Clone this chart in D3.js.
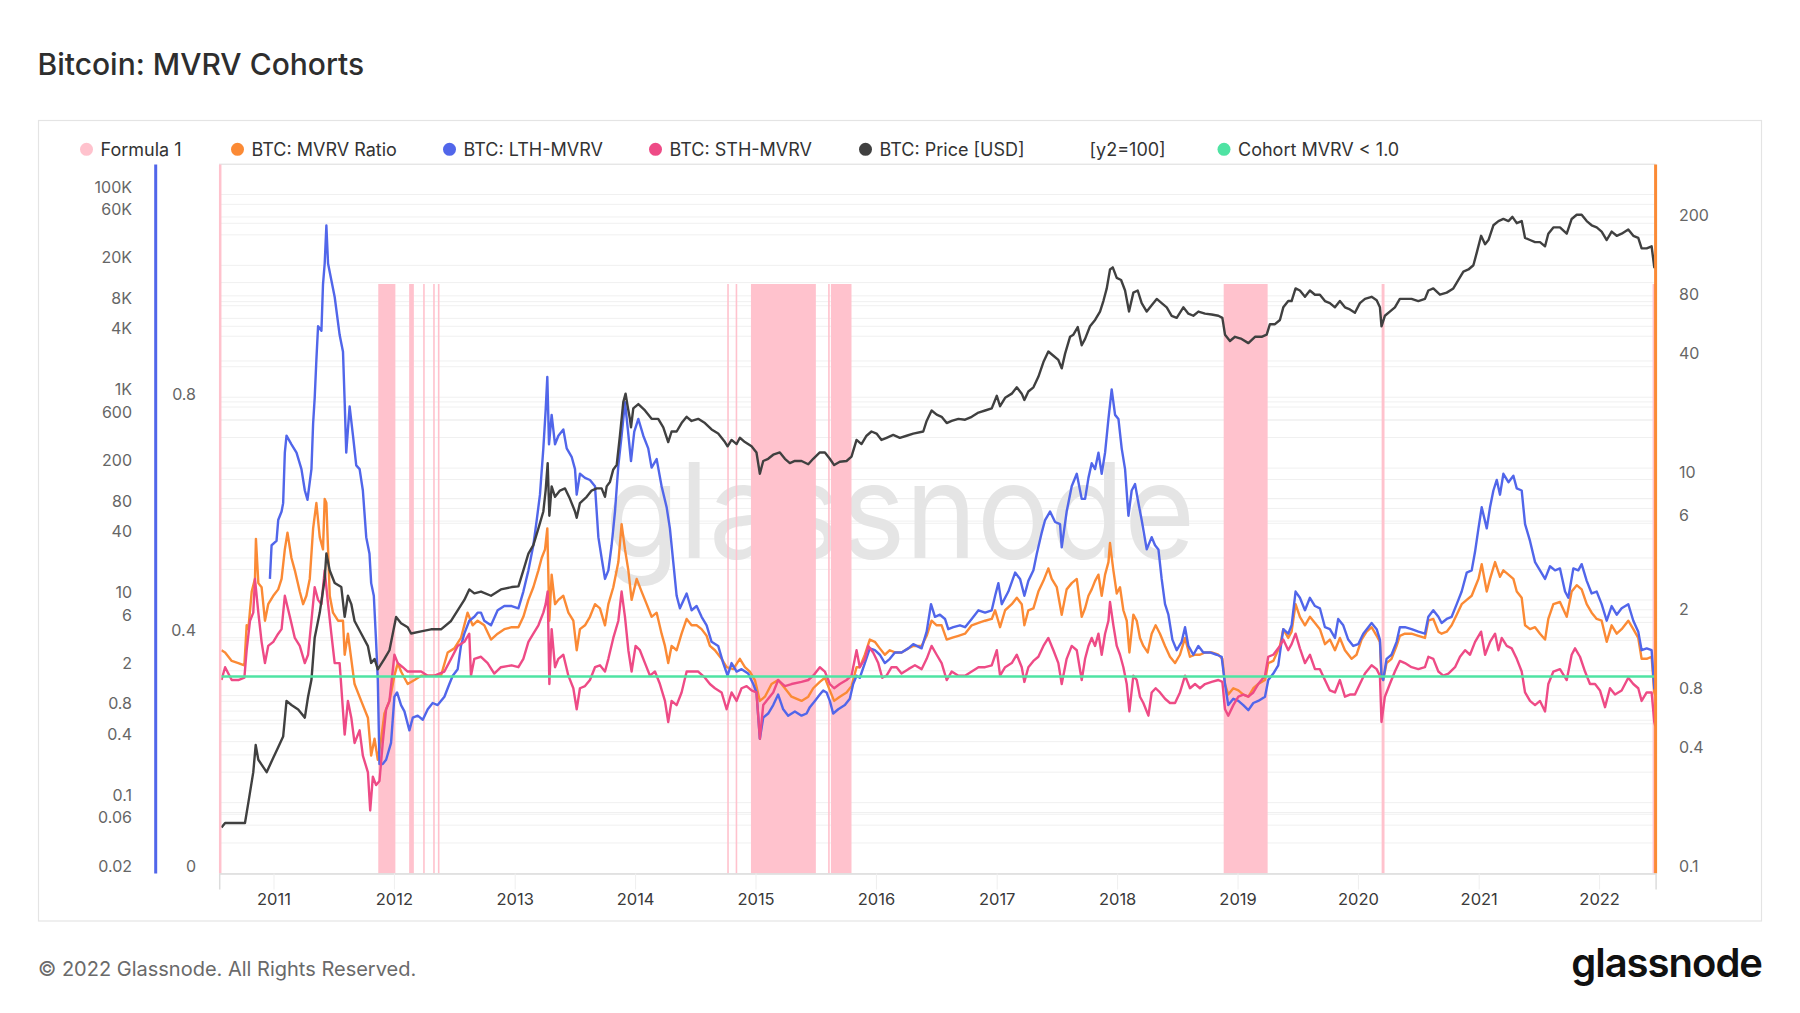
<!DOCTYPE html>
<html>
<head>
<meta charset="utf-8">
<script src="https://cdn.jsdelivr.net/npm/d3@7"></script>
<style>
  body { margin: 0; background: #fff; font-family: Inter, "Noto Sans", sans-serif; }
</style>
</head>
<body>
<svg id="chart" width="1800" height="1013"></svg>
<script>
// values, time given as decimal years
const priceData = [
  [2010.568,0.057],[2010.598,0.063],[2010.708,0.063],[2010.763,0.063],[2010.791,0.10],[2010.832,0.20],[2010.852,0.37],[2010.874,0.265],[2010.943,0.20],[2010.998,0.277],
  [2011.039,0.353],[2011.080,0.449],[2011.108,1.01],[2011.149,0.92],[2011.205,0.83],[2011.260,0.69],[2011.287,1.11],[2011.315,1.63],[2011.342,4.24],[2011.384,7.5],
  [2011.425,16.2],[2011.439,28.7],[2011.467,19.5],[2011.508,14.7],[2011.563,13.4],[2011.591,6.8],[2011.618,11.0],[2011.646,9.1],[2011.673,6.2],[2011.728,4.67],
  [2011.784,3.5],[2011.811,2.39],[2011.839,2.62],[2011.866,2.07],[2011.921,2.62],[2011.963,3.19],[2012.018,6.8],[2012.059,5.9],[2012.114,5.38],[2012.142,4.67],
  [2012.225,4.9],[2012.307,5.13],[2012.390,5.13],[2012.473,6.2],[2012.528,7.9],[2012.583,10.0],[2012.624,12.7],[2012.666,11.6],[2012.721,12.1],[2012.804,11.0],
  [2012.886,12.7],[2012.975,13.4],[2013.031,13.6],[2013.072,19.6],[2013.114,28.7],[2013.155,34.7],[2013.197,50.9],[2013.238,74.6],[2013.257,120],[2013.274,224],
  [2013.288,67.8],[2013.307,132],[2013.335,104],[2013.376,120],[2013.418,126],[2013.459,99.4],[2013.501,74.6],[2013.515,64.7],[2013.542,90.4],[2013.598,104],
  [2013.639,120],[2013.681,126],[2013.722,126],[2013.750,104],[2013.764,132],[2013.791,146],[2013.819,194],[2013.847,214],[2013.874,417],[2013.902,897],
  [2013.921,1085],[2013.938,815],[2013.957,612],[2013.966,505],[2013.985,777],[2014.027,855],[2014.082,740],[2014.137,612],[2014.192,612],[2014.234,505],
  [2014.275,361],[2014.303,459],[2014.345,459],[2014.386,556],[2014.428,641],[2014.469,583],[2014.524,612],[2014.580,556],[2014.635,481],[2014.690,438],
  [2014.746,361],[2014.768,328],[2014.801,379],[2014.843,345],[2014.870,398],[2014.912,361],[2014.967,328],[2015.008,285],[2015.036,176],[2015.064,235],
  [2015.105,247],[2015.147,271],[2015.202,285],[2015.244,247],[2015.285,224],[2015.327,235],[2015.382,235],[2015.438,218],[2015.479,247],[2015.534,285],
  [2015.576,285],[2015.617,247],[2015.653,214],[2015.700,231],[2015.756,235],[2015.797,259],[2015.839,379],[2015.880,345],[2015.922,417],[2015.963,459],
  [2016.005,438],[2016.046,379],[2016.088,398],[2016.143,425],[2016.198,398],[2016.254,417],[2016.309,438],[2016.392,459],[2016.420,583],[2016.461,740],
  [2016.503,673],[2016.544,641],[2016.586,556],[2016.627,583],[2016.683,612],[2016.738,600],[2016.793,641],[2016.849,706],[2016.904,740],[2016.959,777],
  [2017.001,1034],[2017.028,815],[2017.070,986],[2017.125,1085],[2017.167,1252],[2017.208,1085],[2017.230,940],[2017.263,1138],[2017.305,1252],[2017.346,1591],
  [2017.388,2223],[2017.429,2824],[2017.471,2566],[2017.512,2332],[2017.540,1926],[2017.568,2692],[2017.609,3947],[2017.637,4140],[2017.673,4916],[2017.706,3260],
  [2017.734,3762],[2017.775,5010],[2017.817,5784],[2017.858,7002],[2017.886,8892],[2017.914,11845],[2017.941,18215],[2017.964,19107],[2017.997,15046],[2018.033,14344],
  [2018.066,11294],[2018.099,7002],[2018.135,10767],[2018.171,11294],[2018.204,8478],[2018.246,7002],[2018.287,8080],[2018.329,9330],[2018.370,8478],[2018.412,7704],
  [2018.453,6363],[2018.495,6067],[2018.550,7704],[2018.592,6674],[2018.633,6363],[2018.675,7002],[2018.730,6674],[2018.785,6550],[2018.841,6363],[2018.874,6067],
  [2018.896,4140],[2018.937,3586],[2018.979,3947],[2019.034,3762],[2019.090,3419],[2019.145,3947],[2019.200,3947],[2019.242,4140],[2019.269,5256],[2019.311,5256],
  [2019.352,5784],[2019.380,7704],[2019.421,8892],[2019.449,8892],[2019.482,11845],[2019.518,11294],[2019.560,9786],[2019.601,11294],[2019.643,10265],[2019.684,10265],
  [2019.726,8892],[2019.767,8478],[2019.809,7704],[2019.850,8892],[2019.892,7704],[2019.933,7345],[2019.975,6804],[2020.016,8478],[2020.058,9330],[2020.113,9786],
  [2020.155,9065],[2020.182,7704],[2020.195,5010],[2020.223,6363],[2020.264,7002],[2020.306,7704],[2020.347,9330],[2020.389,9330],[2020.444,9330],[2020.500,8892],
  [2020.555,9330],[2020.583,11294],[2020.624,11845],[2020.679,10265],[2020.735,10767],[2020.790,11845],[2020.832,14344],[2020.873,17370],[2020.915,18215],[2020.956,20045],
  [2020.984,26710],[2021.020,39150],[2021.053,32330],[2021.081,35570],[2021.122,49710],[2021.164,54700],[2021.205,57390],[2021.247,54700],[2021.280,60210],[2021.316,52140],
  [2021.357,54700],[2021.385,37320],[2021.426,35570],[2021.468,33920],[2021.509,33920],[2021.551,30830],[2021.578,41060],[2021.620,47390],[2021.675,47390],[2021.731,41060],
  [2021.772,57390],[2021.814,63140],[2021.855,63140],[2021.897,54700],[2021.938,49710],[2021.980,47390],[2022.021,43080],[2022.063,35570],[2022.104,43080],[2022.146,39150],
  [2022.187,41060],[2022.242,45190],[2022.284,39150],[2022.325,37320],[2022.353,29390],[2022.395,29390],[2022.436,30830],[2022.458,19107],[2022.467,20000]
];

const mvrvData = [
  [2010.568,1.36],[2010.598,1.325],[2010.653,1.20],[2010.708,1.17],[2010.758,1.14],[2010.777,1.82],[2010.791,1.74],[2010.819,2.70],[2010.846,3.13],[2010.854,5.0],
  [2010.874,2.98],[2010.901,2.84],[2010.929,1.92],[2010.956,2.33],[2010.998,2.57],[2011.039,2.77],[2011.067,3.13],[2011.094,4.42],[2011.116,5.38],[2011.149,4.0],
  [2011.177,3.46],[2011.218,2.70],[2011.246,2.33],[2011.273,2.57],[2011.301,3.13],[2011.329,5.65],[2011.356,7.6],[2011.384,5.1],[2011.411,4.42],[2011.425,7.98],
  [2011.439,7.6],[2011.467,2.57],[2011.494,2.11],[2011.536,1.92],[2011.577,1.92],[2011.591,1.29],[2011.618,1.65],[2011.673,0.916],[2011.728,0.752],[2011.784,0.618],
  [2011.811,0.397],[2011.839,0.483],[2011.866,0.378],[2011.894,0.483],[2011.921,0.649],[2011.963,0.752],[2012.004,1.01],[2012.032,1.17],[2012.059,1.06],[2012.114,0.916],
  [2012.170,0.96],[2012.225,1.01],[2012.307,1.01],[2012.390,1.01],[2012.445,1.325],[2012.500,1.39],[2012.555,1.57],[2012.610,2.11],[2012.652,1.82],[2012.693,1.92],
  [2012.748,1.82],[2012.804,1.54],[2012.859,1.65],[2012.914,1.74],[2012.975,1.78],[2013.031,1.78],[2013.072,2.01],[2013.114,2.45],[2013.155,2.84],[2013.197,3.46],
  [2013.224,4.0],[2013.252,4.42],[2013.271,5.65],[2013.288,1.92],[2013.307,3.29],[2013.335,2.33],[2013.363,2.45],[2013.404,2.57],[2013.446,2.11],[2013.487,1.92],
  [2013.515,1.36],[2013.542,1.74],[2013.584,1.82],[2013.625,2.01],[2013.667,2.33],[2013.708,2.22],[2013.750,1.82],[2013.778,2.33],[2013.819,2.84],[2013.861,3.81],
  [2013.888,5.94],[2013.916,4.42],[2013.944,3.46],[2013.971,2.45],[2014.013,3.13],[2014.054,2.70],[2014.096,2.33],[2014.137,2.01],[2014.179,2.11],[2014.220,1.65],
  [2014.248,1.43],[2014.275,1.17],[2014.303,1.43],[2014.345,1.36],[2014.386,1.65],[2014.428,1.96],[2014.469,1.82],[2014.511,1.82],[2014.552,1.74],[2014.594,1.61],
  [2014.621,1.43],[2014.663,1.36],[2014.718,1.23],[2014.760,1.115],[2014.815,1.09],[2014.870,1.23],[2014.912,1.115],[2014.953,1.06],[2014.995,0.96],[2015.036,0.752],
  [2015.078,0.79],[2015.133,0.916],[2015.188,0.96],[2015.244,0.872],[2015.299,0.79],[2015.382,0.752],[2015.438,0.79],[2015.479,0.872],[2015.534,0.939],[2015.576,0.986],
  [2015.617,0.85],[2015.653,0.752],[2015.700,0.79],[2015.756,0.83],[2015.797,0.894],[2015.839,1.115],[2015.866,1.115],[2015.908,1.29],[2015.949,1.54],[2015.991,1.50],
  [2016.032,1.39],[2016.074,1.29],[2016.115,1.36],[2016.157,1.325],[2016.212,1.325],[2016.268,1.39],[2016.309,1.43],[2016.378,1.43],[2016.420,1.61],[2016.461,1.92],
  [2016.503,1.82],[2016.544,1.82],[2016.586,1.54],[2016.627,1.57],[2016.683,1.61],[2016.738,1.65],[2016.793,1.82],[2016.849,1.87],[2016.904,1.92],[2016.959,1.96],
  [2016.987,2.17],[2017.028,1.78],[2017.070,2.17],[2017.125,2.33],[2017.167,2.51],[2017.208,2.33],[2017.230,1.82],[2017.263,2.17],[2017.305,2.22],[2017.346,2.70],
  [2017.388,3.06],[2017.429,3.54],[2017.457,3.13],[2017.499,2.84],[2017.540,2.06],[2017.581,2.77],[2017.623,2.98],[2017.665,3.13],[2017.706,2.01],[2017.734,2.22],
  [2017.762,2.57],[2017.789,2.77],[2017.817,3.06],[2017.845,3.29],[2017.872,2.57],[2017.900,3.29],[2017.928,3.81],[2017.941,4.76],[2017.969,3.46],[2017.997,2.64],
  [2018.024,2.84],[2018.052,2.17],[2018.080,1.92],[2018.102,1.325],[2018.135,2.06],[2018.163,1.92],[2018.190,1.57],[2018.218,1.43],[2018.254,1.325],[2018.287,1.65],
  [2018.320,1.82],[2018.356,1.65],[2018.398,1.43],[2018.439,1.26],[2018.481,1.17],[2018.522,1.29],[2018.564,1.57],[2018.605,1.26],[2018.647,1.29],[2018.688,1.29],
  [2018.730,1.325],[2018.785,1.325],[2018.841,1.29],[2018.874,1.23],[2018.896,0.916],[2018.923,0.81],[2018.965,0.872],[2019.007,0.85],[2019.048,0.81],[2019.090,0.79],
  [2019.131,0.872],[2019.172,0.916],[2019.228,0.96],[2019.255,1.17],[2019.297,1.20],[2019.352,1.43],[2019.380,1.74],[2019.421,1.57],[2019.449,1.69],[2019.482,2.33],
  [2019.518,2.01],[2019.560,1.82],[2019.601,2.01],[2019.643,1.87],[2019.684,1.74],[2019.726,1.46],[2019.767,1.54],[2019.809,1.36],[2019.850,1.57],[2019.892,1.36],
  [2019.947,1.23],[2019.988,1.29],[2020.030,1.54],[2020.072,1.69],[2020.113,1.78],[2020.155,1.61],[2020.182,1.50],[2020.195,0.986],[2020.209,0.96],[2020.237,1.17],
  [2020.278,1.23],[2020.320,1.43],[2020.347,1.61],[2020.389,1.65],[2020.444,1.65],[2020.500,1.61],[2020.555,1.57],[2020.583,1.92],[2020.624,1.96],[2020.666,1.69],
  [2020.693,1.65],[2020.735,1.69],[2020.776,1.82],[2020.818,2.06],[2020.859,2.33],[2020.901,2.45],[2020.942,2.57],[2020.970,2.84],[2020.998,3.13],[2021.025,3.72],
  [2021.067,2.70],[2021.094,3.13],[2021.136,3.81],[2021.177,3.21],[2021.205,3.46],[2021.247,3.29],[2021.288,3.13],[2021.316,2.70],[2021.357,2.51],[2021.385,1.82],
  [2021.426,1.74],[2021.468,1.78],[2021.509,1.65],[2021.551,1.54],[2021.578,1.96],[2021.620,2.33],[2021.675,2.39],[2021.731,2.01],[2021.772,2.70],[2021.814,2.91],
  [2021.855,2.77],[2021.897,2.33],[2021.938,2.11],[2021.980,1.96],[2022.021,1.92],[2022.063,1.50],[2022.104,1.82],[2022.146,1.65],[2022.187,1.74],[2022.242,1.92],
  [2022.284,1.74],[2022.325,1.57],[2022.353,1.23],[2022.395,1.23],[2022.436,1.26],[2022.458,0.83],[2022.467,0.80]
];

const lthData = [
  [2010.970,3.13],[2010.984,4.64],[2011.025,4.88],[2011.039,6.23],[2011.067,6.88],[2011.080,7.59],[2011.094,13.7],[2011.108,16.7],[2011.149,15.1],[2011.191,13.7],
  [2011.232,11.3],[2011.260,8.8],[2011.282,7.9],[2011.315,11.3],[2011.329,19.3],[2011.342,26.0],[2011.356,40.5],[2011.370,60],[2011.398,57],[2011.411,98],
  [2011.425,125],[2011.439,195],[2011.453,125],[2011.480,103],[2011.508,84.5],[2011.549,54.3],[2011.577,44.6],[2011.591,24.7],[2011.604,13.7],[2011.632,23.5],
  [2011.660,16.7],[2011.687,11.8],[2011.715,11.3],[2011.742,8.8],[2011.770,5.1],[2011.797,4.2],[2011.811,2.98],[2011.833,2.57],[2011.852,1.50],[2011.866,0.96],
  [2011.880,0.36],[2011.907,0.36],[2011.935,0.378],[2011.976,0.46],[2012.004,0.79],[2012.026,0.83],[2012.059,0.716],[2012.087,0.665],[2012.128,0.533],[2012.156,0.618],
  [2012.197,0.633],[2012.239,0.603],[2012.280,0.682],[2012.321,0.734],[2012.362,0.716],[2012.418,0.79],[2012.459,0.916],[2012.487,1.01],[2012.528,1.09],[2012.555,1.43],
  [2012.583,1.65],[2012.624,1.92],[2012.666,2.01],[2012.693,2.11],[2012.721,2.11],[2012.748,1.92],[2012.804,1.82],[2012.859,2.17],[2012.914,2.28],[2012.975,2.28],
  [2013.031,2.22],[2013.072,2.70],[2013.114,3.46],[2013.155,4.64],[2013.183,6.23],[2013.210,8.38],[2013.238,14.4],[2013.257,22.4],[2013.271,33.2],[2013.285,15.1],
  [2013.307,21.3],[2013.335,15.1],[2013.363,16.7],[2013.404,17.97],[2013.432,14.4],[2013.473,13.05],[2013.501,11.3],[2013.515,8.38],[2013.542,10.7],[2013.584,10.2],
  [2013.625,9.95],[2013.667,9.25],[2013.695,5.1],[2013.722,4.0],[2013.750,3.13],[2013.778,3.46],[2013.805,4.64],[2013.833,6.88],[2013.861,11.8],[2013.888,16.7],
  [2013.916,24.7],[2013.938,18.4],[2013.966,12.4],[2013.993,17.5],[2014.027,20.3],[2014.068,16.7],[2014.109,14.4],[2014.137,11.5],[2014.179,12.7],[2014.220,9.25],
  [2014.262,7.23],[2014.289,5.65],[2014.317,3.81],[2014.345,2.57],[2014.372,2.22],[2014.428,2.64],[2014.469,2.17],[2014.511,2.28],[2014.552,2.01],[2014.594,1.82],
  [2014.635,1.50],[2014.690,1.43],[2014.732,1.17],[2014.768,1.01],[2014.801,1.17],[2014.843,1.06],[2014.884,1.09],[2014.939,1.035],[2014.981,0.916],[2015.008,0.83],
  [2015.036,0.483],[2015.064,0.618],[2015.105,0.649],[2015.147,0.716],[2015.188,0.81],[2015.230,0.682],[2015.271,0.633],[2015.327,0.665],[2015.382,0.633],[2015.424,0.649],
  [2015.451,0.699],[2015.493,0.752],[2015.534,0.81],[2015.562,0.85],[2015.590,0.83],[2015.617,0.752],[2015.645,0.649],[2015.687,0.682],[2015.742,0.716],[2015.783,0.771],
  [2015.811,0.916],[2015.839,1.01],[2015.866,0.986],[2015.908,1.17],[2015.949,1.39],[2015.991,1.36],[2016.032,1.29],[2016.074,1.17],[2016.115,1.23],[2016.157,1.325],
  [2016.212,1.325],[2016.268,1.39],[2016.309,1.46],[2016.378,1.39],[2016.420,1.69],[2016.456,2.33],[2016.489,2.01],[2016.530,2.06],[2016.572,1.96],[2016.599,1.74],
  [2016.641,1.78],[2016.696,1.82],[2016.738,1.78],[2016.793,1.96],[2016.849,2.17],[2016.904,2.11],[2016.959,2.17],[2016.987,2.57],[2017.014,2.98],[2017.042,2.33],
  [2017.097,2.70],[2017.153,3.37],[2017.194,3.13],[2017.230,2.57],[2017.263,3.06],[2017.305,3.46],[2017.333,4.2],[2017.374,5.38],[2017.402,6.23],[2017.443,6.88],
  [2017.485,6.09],[2017.526,5.94],[2017.540,4.53],[2017.581,6.88],[2017.623,9.25],[2017.665,10.7],[2017.706,7.98],[2017.734,7.98],[2017.762,10.2],[2017.789,12.1],
  [2017.817,11.3],[2017.845,13.7],[2017.872,10.7],[2017.900,13.7],[2017.928,20.3],[2017.955,28.7],[2017.983,21.3],[2018.011,20.3],[2018.038,14.4],[2018.066,11.3],
  [2018.094,6.55],[2018.121,8.8],[2018.149,9.48],[2018.177,7.6],[2018.204,6.23],[2018.246,4.42],[2018.287,5.1],[2018.315,4.64],[2018.343,4.42],[2018.370,3.13],
  [2018.398,2.33],[2018.426,2.06],[2018.459,1.54],[2018.495,1.36],[2018.536,1.50],[2018.564,1.78],[2018.592,1.43],[2018.633,1.29],[2018.675,1.43],[2018.716,1.325],
  [2018.771,1.325],[2018.827,1.29],[2018.868,1.26],[2018.896,0.916],[2018.923,0.716],[2018.965,0.771],[2019.007,0.752],[2019.048,0.716],[2019.090,0.675],[2019.131,0.734],
  [2019.172,0.752],[2019.228,0.79],[2019.255,0.96],[2019.297,1.035],[2019.338,1.14],[2019.380,1.74],[2019.421,1.65],[2019.449,1.82],[2019.482,2.70],[2019.518,2.51],
  [2019.560,2.17],[2019.601,2.51],[2019.643,2.28],[2019.684,2.22],[2019.726,1.78],[2019.767,1.74],[2019.809,1.57],[2019.836,1.96],[2019.878,1.82],[2019.919,1.54],
  [2019.961,1.43],[2020.002,1.46],[2020.044,1.65],[2020.113,1.87],[2020.155,1.74],[2020.182,1.54],[2020.195,1.01],[2020.209,0.96],[2020.237,1.23],[2020.278,1.29],
  [2020.320,1.50],[2020.347,1.78],[2020.389,1.78],[2020.444,1.74],[2020.500,1.69],[2020.555,1.65],[2020.583,2.01],[2020.624,2.17],[2020.666,2.01],[2020.693,1.87],
  [2020.735,1.96],[2020.776,2.01],[2020.818,2.33],[2020.859,2.70],[2020.901,3.37],[2020.942,3.46],[2020.970,4.31],[2020.998,5.65],[2021.025,7.23],[2021.067,5.65],
  [2021.094,7.23],[2021.122,8.8],[2021.150,9.95],[2021.177,8.38],[2021.205,10.7],[2021.247,9.7],[2021.288,10.45],[2021.316,9.02],[2021.357,8.8],[2021.385,5.94],
  [2021.426,4.88],[2021.468,3.81],[2021.509,3.46],[2021.551,3.13],[2021.592,3.63],[2021.634,3.46],[2021.675,3.54],[2021.717,2.70],[2021.744,2.51],[2021.786,3.54],
  [2021.827,3.46],[2021.855,3.72],[2021.897,3.06],[2021.938,2.64],[2021.980,2.70],[2022.021,2.33],[2022.063,1.92],[2022.104,2.28],[2022.146,2.06],[2022.187,2.22],
  [2022.242,2.33],[2022.284,1.92],[2022.325,1.69],[2022.353,1.36],[2022.395,1.39],[2022.436,1.36],[2022.458,0.872],[2022.467,0.85]
];

const sthData = [
  [2010.568,0.96],[2010.598,1.115],[2010.653,0.96],[2010.708,0.96],[2010.758,0.986],[2010.777,1.36],[2010.805,1.92],[2010.832,2.11],[2010.846,3.13],[2010.874,2.11],
  [2010.901,1.50],[2010.929,1.17],[2010.956,1.43],[2010.998,1.50],[2011.039,1.65],[2011.067,1.74],[2011.094,2.57],[2011.136,2.01],[2011.177,1.57],[2011.218,1.43],
  [2011.260,1.17],[2011.287,1.29],[2011.315,1.92],[2011.342,2.84],[2011.370,2.45],[2011.398,2.33],[2011.425,3.46],[2011.453,2.33],[2011.480,1.65],[2011.508,1.17],
  [2011.549,1.17],[2011.591,0.507],[2011.618,0.752],[2011.646,0.618],[2011.673,0.46],[2011.715,0.533],[2011.742,0.397],[2011.784,0.326],[2011.803,0.209],[2011.825,0.31],
  [2011.852,0.281],[2011.880,0.295],[2011.907,0.46],[2011.935,0.682],[2011.963,0.752],[2012.004,1.29],[2012.032,1.17],[2012.073,1.115],[2012.114,1.06],[2012.170,1.06],
  [2012.225,1.06],[2012.280,1.01],[2012.335,1.01],[2012.418,1.06],[2012.473,1.23],[2012.528,1.43],[2012.583,1.50],[2012.624,1.65],[2012.638,1.01],[2012.666,1.23],
  [2012.721,1.26],[2012.776,1.17],[2012.831,1.035],[2012.886,1.115],[2012.975,1.14],[2013.031,1.115],[2013.072,1.23],[2013.114,1.50],[2013.155,1.65],[2013.197,1.82],
  [2013.238,2.11],[2013.257,2.33],[2013.274,2.70],[2013.288,0.916],[2013.307,1.74],[2013.335,1.115],[2013.363,1.23],[2013.404,1.29],[2013.446,1.01],[2013.487,0.872],
  [2013.515,0.682],[2013.542,0.872],[2013.584,0.894],[2013.625,0.96],[2013.667,1.115],[2013.708,1.14],[2013.750,1.06],[2013.778,1.23],[2013.819,1.57],[2013.861,1.92],
  [2013.888,2.70],[2013.916,2.01],[2013.944,1.36],[2013.971,1.06],[2014.004,1.43],[2014.040,1.36],[2014.082,1.17],[2014.123,1.01],[2014.165,1.06],[2014.206,0.916],
  [2014.248,0.752],[2014.275,0.588],[2014.303,0.752],[2014.345,0.716],[2014.386,0.83],[2014.428,1.06],[2014.469,1.06],[2014.524,1.06],[2014.580,0.986],[2014.621,0.916],
  [2014.663,0.872],[2014.718,0.83],[2014.760,0.682],[2014.801,0.83],[2014.843,0.752],[2014.884,0.872],[2014.926,0.894],[2014.967,0.85],[2015.008,0.83],[2015.036,0.483],
  [2015.064,0.716],[2015.105,0.771],[2015.147,0.83],[2015.188,0.96],[2015.244,0.894],[2015.299,0.916],[2015.382,0.939],[2015.438,0.96],[2015.479,1.01],[2015.534,1.115],
  [2015.576,1.06],[2015.617,0.916],[2015.653,0.872],[2015.700,0.916],[2015.756,0.96],[2015.797,1.01],[2015.839,1.36],[2015.866,1.115],[2015.908,1.23],[2015.936,1.43],
  [2015.977,1.325],[2016.019,1.17],[2016.052,0.986],[2016.088,1.01],[2016.129,1.115],[2016.171,1.115],[2016.212,1.035],[2016.268,1.09],[2016.323,1.14],[2016.378,1.09],
  [2016.420,1.23],[2016.461,1.43],[2016.503,1.29],[2016.544,1.17],[2016.586,0.96],[2016.627,1.06],[2016.683,1.01],[2016.738,1.01],[2016.793,1.06],[2016.849,1.115],
  [2016.904,1.115],[2016.959,1.14],[2017.001,1.36],[2017.028,1.01],[2017.070,1.115],[2017.125,1.17],[2017.167,1.29],[2017.208,1.115],[2017.230,0.939],[2017.263,1.115],
  [2017.305,1.20],[2017.346,1.26],[2017.388,1.43],[2017.429,1.57],[2017.471,1.36],[2017.512,1.17],[2017.540,0.916],[2017.581,1.23],[2017.623,1.43],[2017.665,1.36],
  [2017.706,0.96],[2017.734,1.23],[2017.762,1.43],[2017.789,1.57],[2017.817,1.43],[2017.845,1.65],[2017.872,1.29],[2017.900,1.65],[2017.928,1.92],[2017.941,2.39],
  [2017.969,1.82],[2017.997,1.43],[2018.024,1.29],[2018.052,1.115],[2018.080,0.916],[2018.102,0.665],[2018.135,1.01],[2018.163,0.96],[2018.190,0.79],[2018.218,0.734],
  [2018.260,0.633],[2018.287,0.83],[2018.320,0.872],[2018.356,0.83],[2018.398,0.771],[2018.439,0.734],[2018.481,0.734],[2018.522,0.83],[2018.564,1.01],[2018.605,0.872],
  [2018.647,0.916],[2018.688,0.872],[2018.730,0.916],[2018.785,0.939],[2018.841,0.96],[2018.874,0.939],[2018.896,0.682],[2018.923,0.633],[2018.965,0.716],[2019.007,0.79],
  [2019.048,0.81],[2019.090,0.79],[2019.131,0.83],[2019.172,0.916],[2019.228,1.01],[2019.255,1.26],[2019.297,1.29],[2019.352,1.43],[2019.380,1.54],[2019.421,1.36],
  [2019.449,1.46],[2019.482,1.65],[2019.518,1.39],[2019.560,1.17],[2019.601,1.29],[2019.643,1.09],[2019.684,1.09],[2019.726,0.96],[2019.767,0.85],[2019.809,0.83],
  [2019.850,0.96],[2019.892,0.79],[2019.933,0.81],[2019.975,0.81],[2020.016,0.916],[2020.058,1.035],[2020.113,1.14],[2020.155,1.09],[2020.182,1.01],[2020.195,0.588],
  [2020.223,0.79],[2020.264,0.916],[2020.306,1.06],[2020.347,1.20],[2020.389,1.17],[2020.444,1.115],[2020.500,1.09],[2020.555,1.115],[2020.583,1.26],[2020.624,1.23],
  [2020.666,1.06],[2020.707,1.01],[2020.749,1.035],[2020.804,1.115],[2020.845,1.26],[2020.887,1.36],[2020.928,1.29],[2020.970,1.50],[2021.020,1.69],[2021.053,1.29],
  [2021.094,1.50],[2021.136,1.65],[2021.164,1.36],[2021.191,1.57],[2021.233,1.43],[2021.274,1.39],[2021.316,1.23],[2021.357,1.06],[2021.385,0.83],[2021.426,0.752],
  [2021.468,0.716],[2021.509,0.752],[2021.551,0.665],[2021.578,0.916],[2021.620,1.06],[2021.675,1.09],[2021.731,0.96],[2021.772,1.29],[2021.800,1.39],[2021.841,1.26],
  [2021.883,1.06],[2021.924,0.916],[2021.966,0.916],[2022.007,0.85],[2022.049,0.699],[2022.090,0.872],[2022.132,0.81],[2022.187,0.85],[2022.242,0.986],[2022.284,0.916],
  [2022.325,0.872],[2022.353,0.752],[2022.395,0.83],[2022.436,0.83],[2022.458,0.588],[2022.467,0.56]
];

// Formula 1 = 1 during these spans
const formulaOn = [
  [2011.870,2012.012],[2012.126,2012.165],[2012.242,2012.251],[2012.325,2012.334],[2012.364,2012.375],
  [2014.765,2014.777],[2014.835,2014.848],[2014.962,2015.501],[2015.603,2015.609],[2015.626,2015.797],
  [2018.885,2019.250],[2020.196,2020.220],[2022.444,2022.469]
];

const cohortLevel = 1.0;
const dateRange = [2010.549, 2022.469];

const priceTicks = [100000, 60000, 20000, 8000, 4000, 1000, 600, 200, 80, 40, 10, 6, 2, 0.8, 0.4, 0.1, 0.06, 0.02];
const ratioTicks = [200, 80, 40, 10, 6, 2, 0.8, 0.4, 0.1];
const formulaTicks = [0, 0.4, 0.8];
const gridSteps = [1, 2, 4, 6, 8];

const legendNames = ['Formula 1', 'BTC: MVRV Ratio', 'BTC: LTH-MVRV', 'BTC: STH-MVRV', 'BTC: Price [USD]', '[y2=100]', 'Cohort MVRV < 1.0'];
const legendColors = ['#ffc2cd', '#fb8a35', '#5166ea', '#ee4b86', '#404040', 'none', '#4fe3a3'];
const legendX = [86.5, 237.5, 449.5, 655.5, 865.5, 1075.5, 1224];

// ---------- layout ----------
const svg = d3.select('#chart');
const P = { left: 219.2, right: 1655.6, top: 164.5, bottom: 873.5 };

function yrDate(y) {
  const Y = Math.floor(y);
  const s = Date.UTC(Y, 0, 1), e = Date.UTC(Y + 1, 0, 1);
  return new Date(s + (y - Y) * (e - s));
}

const x = d3.scaleUtc().domain(dateRange.map(yrDate)).range([P.left, P.right]);
const yPrice = d3.scaleLog().domain([0.02, 200000]).range([P.bottom, 164]);
const yRatio = d3.scaleLog().domain([0.1, 400]).range([P.bottom, 164]);
const yFormula = d3.scaleLinear().domain([0, 1]).range([P.bottom, 284]);

// card
svg.append('rect')
  .attr('x', 38.5).attr('y', 120.5).attr('width', 1723).attr('height', 800.5)
  .attr('fill', '#fff').attr('stroke', '#e4e4e4').attr('stroke-width', 1.2);

svg.append('text')
  .attr('x', 37.5).attr('y', 75)
  .attr('font-size', 30).attr('font-weight', 500).attr('fill', '#2e2e2e')
  .text('Bitcoin: MVRV Cohorts');

// grid
function logGrid(scale, lo, hi) {
  const vals = [];
  for (let n = lo; n <= hi; n++) gridSteps.forEach(m => vals.push(m * Math.pow(10, n)));
  const d = scale.domain();
  return vals.filter(v => v >= d[0] * 0.999 && v <= d[1]);
}
const gridY = logGrid(yPrice, -2, 5).map(v => yPrice(v))
  .concat(logGrid(yRatio, -1, 2).map(v => yRatio(v)))
  .concat([0.4, 0.8].map(v => yFormula(v)));

const grid = svg.append('g');
grid.selectAll('line').data(gridY).join('line')
  .attr('x1', P.left).attr('x2', P.right)
  .attr('y1', d => d).attr('y2', d => d)
  .attr('stroke', '#f0f0f0').attr('stroke-width', 1);

// watermark
svg.append('text')
  .attr('x', 605).attr('y', 558)
  .attr('font-size', 132).attr('fill', '#e5e5e5')
  .attr('textLength', 590).attr('lengthAdjust', 'spacingAndGlyphs')
  .text('glassnode');

const clip = svg.append('defs').append('clipPath').attr('id', 'plotclip');
clip.append('rect').attr('x', P.left).attr('y', P.top).attr('width', P.right - P.left).attr('height', P.bottom - P.top);

const plot = svg.append('g').attr('clip-path', 'url(#plotclip)');

// Formula 1 bars
plot.selectAll('rect.f1').data(formulaOn).join('rect')
  .attr('class', 'f1')
  .attr('x', d => x(yrDate(d[0])))
  .attr('width', d => Math.max(1.6, x(yrDate(d[1])) - x(yrDate(d[0]))))
  .attr('y', yFormula(1))
  .attr('height', yFormula(0) - yFormula(1))
  .attr('fill', '#ffc2cd');

function drawLine(data, yScale, color) {
  const line = d3.line()
    .x(d => x(yrDate(d[0])))
    .y(d => yScale(d[1]));
  plot.append('path').datum(data)
    .attr('d', line)
    .attr('fill', 'none')
    .attr('stroke', color)
    .attr('stroke-width', 2.4)
    .attr('stroke-linejoin', 'round');
}
drawLine(mvrvData, yRatio, '#fb8a35');
drawLine(lthData, yRatio, '#5166ea');
drawLine(sthData, yRatio, '#ee4b86');
drawLine(priceData, yPrice, '#404040');

plot.append('line')
  .attr('x1', P.left).attr('x2', P.right)
  .attr('y1', yRatio(cohortLevel)).attr('y2', yRatio(cohortLevel))
  .attr('stroke', '#4fe3a3').attr('stroke-width', 2.5);

// plot frame
svg.append('line').attr('x1', P.left).attr('x2', P.right).attr('y1', P.top).attr('y2', P.top)
  .attr('stroke', '#e6e6e6');
svg.append('line').attr('x1', P.left + 1).attr('x2', P.left + 1).attr('y1', P.top).attr('y2', P.bottom)
  .attr('stroke', '#ffc2cd').attr('stroke-width', 2.5);
svg.append('line').attr('x1', 155.7).attr('x2', 155.7).attr('y1', P.top).attr('y2', P.bottom)
  .attr('stroke', '#5166ea').attr('stroke-width', 3);
svg.append('line').attr('x1', P.right).attr('x2', P.right).attr('y1', P.top).attr('y2', P.bottom)
  .attr('stroke', '#fb8a35').attr('stroke-width', 3);

// axes
function styleAxis(g, dy) {
  g.select('.domain').remove();
  g.selectAll('.tick line').remove();
  g.selectAll('.tick text')
    .attr('y', dy)
    .attr('font-family', 'Inter, "Noto Sans", sans-serif')
    .attr('font-size', 16).attr('fill', '#666');
}
const fmtPrice = v => v >= 1000 ? (v / 1000) + 'K' : String(v);

svg.append('g').attr('transform', 'translate(132,0)')
  .call(d3.axisLeft(yPrice).tickValues(priceTicks).tickFormat(fmtPrice).tickSize(0).tickPadding(0))
  .call(g => styleAxis(g, -7.5));

svg.append('g').attr('transform', 'translate(196,0)')
  .call(d3.axisLeft(yFormula).tickValues(formulaTicks).tickFormat(d => String(d)).tickSize(0).tickPadding(0))
  .call(g => styleAxis(g, -7.5));

svg.append('g').attr('transform', 'translate(1679,0)')
  .call(d3.axisRight(yRatio).tickValues(ratioTicks).tickFormat(d => String(d)).tickSize(0).tickPadding(0))
  .call(g => styleAxis(g, -7.5));

const xAxis = svg.append('g').attr('transform', `translate(0,${P.bottom})`)
  .call(d3.axisBottom(x).ticks(d3.utcYear.every(1)).tickFormat(d3.utcFormat('%Y')).tickSize(16).tickPadding(4));
xAxis.select('.domain').attr('stroke', '#dcdcdc').attr('stroke-width', 1.5);
xAxis.selectAll('.tick line').attr('stroke', '#efefef');
xAxis.selectAll('.tick text')
  .attr('font-family', 'Inter, "Noto Sans", sans-serif')
  .attr('font-size', 16.5).attr('fill', '#3a3a3a');

// legend
const legend = svg.append('g');
legendNames.forEach((name, i) => {
  if (legendColors[i] !== 'none') {
    legend.append('circle').attr('cx', legendX[i]).attr('cy', 149.3).attr('r', 6.5).attr('fill', legendColors[i]);
  }
  legend.append('text')
    .attr('x', legendX[i] + 14).attr('y', 155.6)
    .attr('font-size', 18).attr('fill', '#333')
    .text(name);
});

// footer
svg.append('text')
  .attr('x', 38).attr('y', 976)
  .attr('font-size', 20).attr('fill', '#6a6a6a')
  .text('© 2022 Glassnode. All Rights Reserved.');

svg.append('text')
  .attr('x', 1762).attr('y', 977).attr('text-anchor', 'end')
  .attr('font-size', 40).attr('font-weight', 600).attr('fill', '#111')
  .attr('letter-spacing', -1)
  .text('glassnode');
</script>
</body>
</html>
